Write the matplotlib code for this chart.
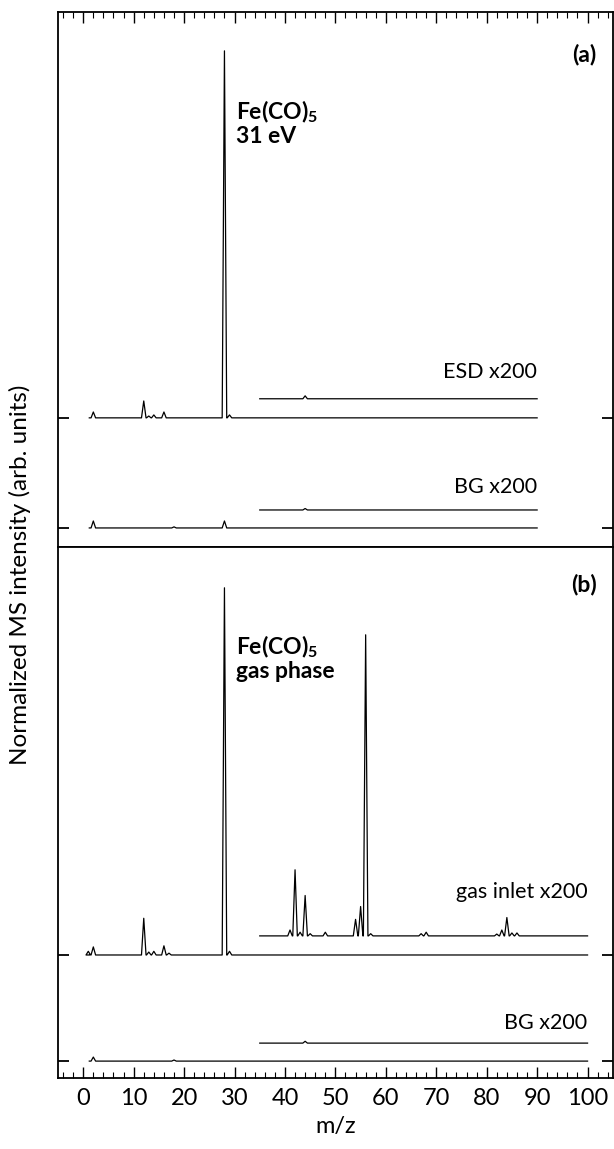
import matplotlib
matplotlib.use("Agg")
from matplotlib import pyplot as plt
from matplotlib.ticker import MultipleLocator

plt.rcParams["font.family"] = ["Lato", "DejaVu Sans"]
plt.rcParams["mathtext.fontset"] = "custom"
plt.rcParams["mathtext.rm"] = "Lato"
plt.rcParams["mathtext.bf"] = "Lato:bold"

# --- panel (a): ESD at 31 eV, peak lists (m/z, height), normalized to m/z 28 ---
esd_mz = [2, 12, 13, 14, 16, 28, 29]
esd_h = [0.016, 0.046, 0.005, 0.008, 0.016, 1.0, 0.008]
esd200_mz = [44]
esd200_h = [0.008]
bg_a_mz = [2, 18, 28]
bg_a_h = [0.019, 0.003, 0.019]
bg200_a_mz = [44]
bg200_a_h = [0.004]

# --- panel (b): gas phase ---
gas_mz = [1, 2, 12, 13, 14, 16, 17, 28, 29]
gas_h = [0.01, 0.022, 0.10, 0.008, 0.01, 0.025, 0.005, 1.0, 0.01]
inlet_mz = [41, 42, 43, 44, 45, 48, 54, 55, 56, 57, 67, 68, 82, 83, 84, 85, 86]
inlet_h = [0.016, 0.18, 0.01, 0.11, 0.006, 0.01, 0.045, 0.08, 0.82, 0.006,
           0.006, 0.01, 0.005, 0.016, 0.05, 0.008, 0.008]
bg_b_mz = [2, 18]
bg_b_h = [0.011, 0.003]
bg200_b_mz = [44]
bg200_b_h = [0.005]

# vertical offsets of the stacked traces
off_a = {"esd": 0.30, "esd200": 0.352, "bg": 0.0, "bg200": 0.049}
off_b = {"gas": 0.289, "inlet": 0.341, "bg": 0.0, "bg200": 0.049}


def spectrum(mz, h, start, stop, w=0.45):
    xs, ys = [start], [0.0]
    for m, v in zip(mz, h):
        xs += [m - w, m, m + w]
        ys += [0.0, v, 0.0]
    xs.append(stop)
    ys.append(0.0)
    return xs, ys


def draw(ax, mz, h, start, stop, offset):
    xs, ys = spectrum(mz, h, start, stop)
    ax.plot(xs, [y + offset for y in ys], c="black", lw=0.9)


fig = plt.figure(figsize=(6.14, 11.49), dpi=100)
ax_a = fig.add_axes([0.0945, 0.5239, 0.9035, 0.4657])
ax_b = fig.add_axes([0.0945, 0.0618, 0.9035, 0.4621])

# panel (a)
draw(ax_a, esd_mz, esd_h, 1.2, 90, off_a["esd"])
draw(ax_a, esd200_mz, esd200_h, 35, 90, off_a["esd200"])
draw(ax_a, bg_a_mz, bg_a_h, 1.2, 90, off_a["bg"])
draw(ax_a, bg200_a_mz, bg200_a_h, 35, 90, off_a["bg200"])

# panel (b)
draw(ax_b, gas_mz, gas_h, 1.2, 100, off_b["gas"])
draw(ax_b, inlet_mz, inlet_h, 35, 100, off_b["inlet"])
draw(ax_b, bg_b_mz, bg_b_h, 1.2, 100, off_b["bg"])
draw(ax_b, bg200_b_mz, bg200_b_h, 35, 100, off_b["bg200"])

fs = 15.5
fsb = 16.5
ax_a.text(30.2, 1.105, "Fe(CO)$_\\mathbf{5}$\n31 eV", fontsize=fsb, fontweight="bold",
          ha="left", va="center", linespacing=1.05)
ax_a.text(101.8, 1.29, "(a)", fontsize=fsb, fontweight="bold", ha="right", va="center")
ax_a.text(90, 0.425, "ESD x200", fontsize=fs, ha="right", va="center")
ax_a.text(90, 0.112, "BG x200", fontsize=fs, ha="right", va="center")

ax_b.text(30.2, 1.10, "Fe(CO)$_\\mathbf{5}$\ngas phase", fontsize=fsb, fontweight="bold",
          ha="left", va="center", linespacing=1.05)
ax_b.text(101.8, 1.297, "(b)", fontsize=fsb, fontweight="bold", ha="right", va="center")
ax_b.text(100, 0.46, "gas inlet x200", fontsize=fs, ha="right", va="center")
ax_b.text(100, 0.105, "BG x200", fontsize=fs, ha="right", va="center")

for ax, off, ylim in [(ax_a, off_a, (-0.052, 1.406)), (ax_b, off_b, (-0.046, 1.40))]:
    ax.set_xlim(-5, 105)
    ax.set_ylim(*ylim)
    ax.xaxis.set_major_locator(MultipleLocator(10))
    ax.xaxis.set_minor_locator(MultipleLocator(2))
    ax.set_yticks([off["bg"], off[list(off)[0]]])
    ax.tick_params(axis="y", which="both", direction="in", left=True, right=True,
                   labelleft=False, length=8, width=1.3)
    for s in ax.spines.values():
        s.set_linewidth(1.3)

ax_a.tick_params(axis="x", which="both", direction="in", top=True, bottom=False,
                 labelbottom=False, labeltop=False)
ax_b.tick_params(axis="x", which="both", direction="in", top=False, bottom=True,
                 labelsize=17, pad=7)
for ax in (ax_a, ax_b):
    ax.tick_params(axis="x", which="major", length=8, width=1.0)
    ax.tick_params(axis="x", which="minor", length=4, width=0.8)

ax_b.set_xlabel("m/z", fontsize=17, labelpad=5)
fig.text(0.033, 0.5, "Normalized MS intensity (arb. units)", fontsize=17.5,
         rotation=90, ha="center", va="center")

fig.savefig("out.png", dpi=100)
